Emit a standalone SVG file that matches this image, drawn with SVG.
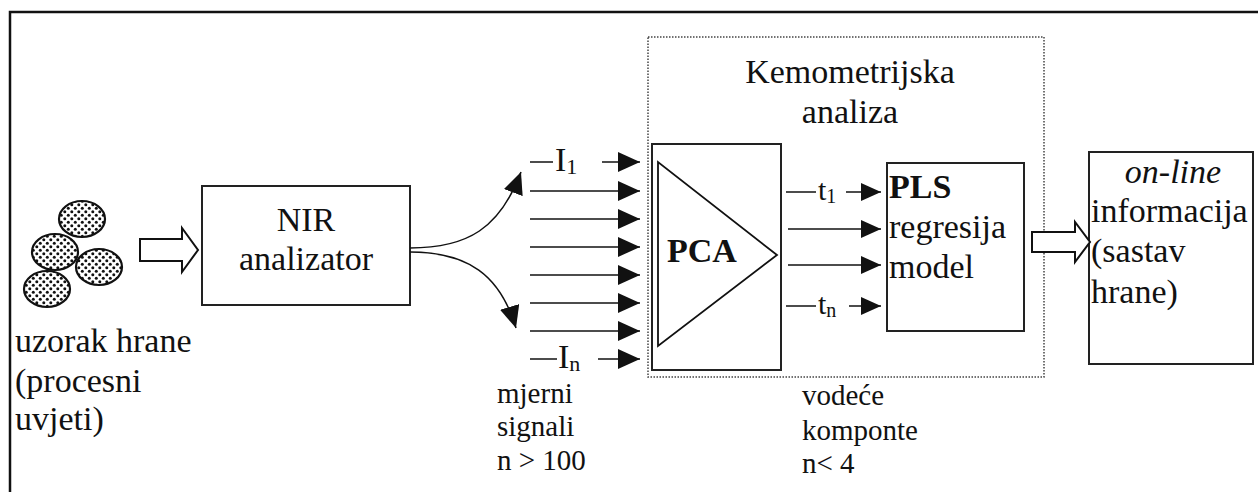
<svg xmlns="http://www.w3.org/2000/svg" width="1258" height="492" viewBox="0 0 1258 492" font-family="'Liberation Serif', 'Times New Roman', 'DejaVu Serif', serif">
<style>
.t{font-family:'Liberation Serif','Times New Roman','DejaVu Serif',serif;font-size:34px;fill:#111}
.s{font-family:'Liberation Serif','Times New Roman','DejaVu Serif',serif;font-size:29px;fill:#111}
.b{font-weight:bold}
.box{fill:#fff;stroke:#222;stroke-width:2}
.ln{stroke:#111;stroke-width:1.5;fill:none}
.hollow{fill:#fff;stroke:#111;stroke-width:2;stroke-linejoin:miter}
.grain{fill:url(#dots);stroke:#111;stroke-width:2.2}
</style>
<defs>
<pattern id="dots" width="7" height="7" patternUnits="userSpaceOnUse">
<rect width="7" height="7" fill="#fff"/>
<circle cx="1.8" cy="1.8" r="1.5" fill="#111"/>
<circle cx="5.3" cy="5.3" r="1.5" fill="#111"/>
</pattern>
<marker id="ah" markerWidth="22" markerHeight="20" refX="22" refY="10" orient="auto" markerUnits="userSpaceOnUse">
<path d="M0,0 L22,10 L0,20 Z" fill="#111"/>
</marker>
<marker id="ah2" markerWidth="20" markerHeight="18" refX="20" refY="9" orient="auto" markerUnits="userSpaceOnUse">
<path d="M0,0 L20,9 L0,18 Z" fill="#111"/>
</marker>
</defs>
<rect width="1258" height="492" fill="#fff"/>
<path d="M10,500 L10,12 L1270,12" fill="none" stroke="#111" stroke-width="2.5"/>

<g id="sample">
<ellipse class="grain" cx="82" cy="219" rx="23" ry="18"/>
<ellipse class="grain" cx="55" cy="252" rx="23" ry="18"/>
<ellipse class="grain" cx="99" cy="267" rx="23" ry="18"/>
<ellipse class="grain" cx="47" cy="289" rx="23" ry="18"/>
<text class="t" x="15" y="352">uzorak hrane</text>
<text class="t" x="15" y="392">(procesni</text>
<text class="t" x="15" y="430">uvjeti)</text>
</g>

<g id="nir">
<rect class="box" x="202" y="186" width="208" height="119"/>
<text class="t" x="306" y="231" text-anchor="middle">NIR</text>
<text class="t" x="306" y="270" text-anchor="middle">analizator</text>
</g>

<g id="kemometrija">
<rect x="648" y="37" width="396" height="340" fill="none" stroke="#444" stroke-width="1.5" stroke-dasharray="1.5,1.5"/>
<text class="t" x="850" y="83" text-anchor="middle">Kemometrijska</text>
<text class="t" x="850" y="123" text-anchor="middle">analiza</text>
</g>

<g id="pca">
<rect class="box" x="652" y="144" width="129" height="226" stroke-width="2.5"/>
<path d="M658,162 L658,346 L777,255 Z" fill="none" stroke="#111" stroke-width="1.8"/>
<text class="t b" x="667" y="262">PCA</text>
</g>

<g id="pls">
<rect class="box" x="887" y="163" width="137" height="168"/>
<text class="t b" x="889" y="198">PLS</text>
<text class="t" x="889" y="238">regresija</text>
<text class="t" x="889" y="278">model</text>
</g>

<g id="online">
<rect class="box" x="1089" y="152" width="164" height="212"/>
<text class="t" x="1173" y="183" text-anchor="middle" font-style="italic">on-line</text>
<text class="t" x="1091" y="222">informacija</text>
<text class="t" x="1091" y="262">(sastav</text>
<text class="t" x="1091" y="303">hrane)</text>
</g>

<g id="labels">
<text class="s" x="497" y="403">mjerni</text>
<text class="s" x="497" y="436">signali</text>
<text class="s" x="497" y="470">n &gt; 100</text>
<text class="s" x="802" y="405">vodeće</text>
<text class="s" x="802" y="440">komponte</text>
<text class="s" x="802" y="473">n&lt; 4</text>
<text class="t" x="555" y="171">I<tspan font-size="22" dy="3">1</tspan></text>
<text class="t" x="558" y="368">I<tspan font-size="22" dy="3">n</tspan></text>
<text class="t" x="818" y="200" style="font-size:30px">t<tspan font-size="20" dy="3">1</tspan></text>
<text class="t" x="818" y="314" style="font-size:30px">t<tspan font-size="20" dy="3">n</tspan></text>
</g>

<g id="connectors">
<path class="hollow" d="M140,239 L182,239 L182,228 L198,250 L182,272 L182,261 L140,261 Z"/>
<path class="hollow" d="M1032,232 L1075,232 L1075,222 L1090,242 L1075,262 L1075,252 L1032,252 Z"/>
<path class="ln" stroke-width="2" d="M410,248 C468,248 500,228 521,172" marker-end="url(#ah)"/>
<path class="ln" stroke-width="2" d="M410,252 C468,252 500,275 516,328" marker-end="url(#ah)"/>
<line class="ln" x1="530" y1="162" x2="553" y2="162"/>
<line class="ln" x1="602" y1="162" x2="640" y2="162" marker-end="url(#ah)"/>
<line class="ln" x1="530" y1="191" x2="640" y2="191" marker-end="url(#ah)"/>
<line class="ln" x1="530" y1="219" x2="640" y2="219" marker-end="url(#ah)"/>
<line class="ln" x1="530" y1="247" x2="640" y2="247" marker-end="url(#ah)"/>
<line class="ln" x1="530" y1="275" x2="640" y2="275" marker-end="url(#ah)"/>
<line class="ln" x1="530" y1="303" x2="640" y2="303" marker-end="url(#ah)"/>
<line class="ln" x1="530" y1="331" x2="640" y2="331" marker-end="url(#ah)"/>
<line class="ln" x1="530" y1="359" x2="557" y2="359"/>
<line class="ln" x1="598" y1="359" x2="640" y2="359" marker-end="url(#ah)"/>
<line class="ln" x1="786" y1="192" x2="816" y2="192"/>
<line class="ln" x1="846" y1="192" x2="881" y2="192" marker-end="url(#ah2)"/>
<line class="ln" x1="788" y1="229" x2="881" y2="229" marker-end="url(#ah2)"/>
<line class="ln" x1="788" y1="265" x2="881" y2="265" marker-end="url(#ah2)"/>
<line class="ln" x1="786" y1="306" x2="816" y2="306"/>
<line class="ln" x1="849" y1="306" x2="881" y2="306" marker-end="url(#ah2)"/>
</g>
</svg>
